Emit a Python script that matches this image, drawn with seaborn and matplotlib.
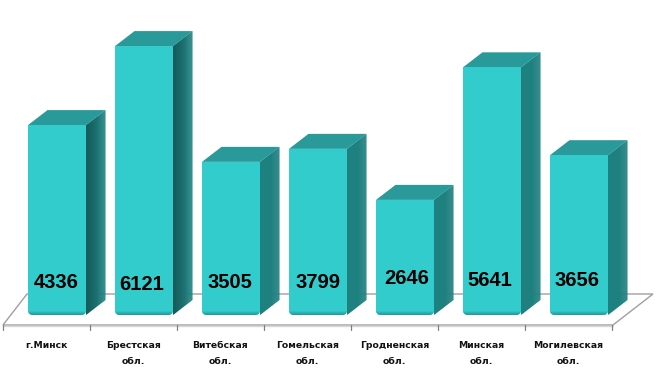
import numpy as np
import pandas as pd
import matplotlib
matplotlib.use('Agg')
import matplotlib.pyplot as plt
import seaborn as sns
from matplotlib.colors import to_rgb
from matplotlib.patches import FancyBboxPatch, Polygon, Rectangle

regions = ['г.Минск', 'Брестская\nобл.', 'Витебская\nобл.', 'Гомельская\nобл.',
           'Гродненская\nобл.', 'Минская\nобл.', 'Могилевская\nобл.']
counts = [4336, 6121, 3505, 3799, 2646, 5641, 3656]

# the value labels are not level in the original, so keep their pixel spots
label_dx = [-1, -2, -1, 0, 2, -2, -2]
label_y = [283, 284.5, 282, 282, 278, 280, 281]

W, H = 660, 391
PX_X = 87.0               # one category
PX_Y = 0.04426            # px per unit
X0, Y0 = 57.0, 317.0      # centre of the first bar, baseline

sns.set_theme(style='white')
plt.rcParams['font.family'] = ['Liberation Sans', 'DejaVu Sans']

fig = plt.figure(figsize=(W / 100, H / 100), dpi=100)
ax = fig.add_axes([0, 0, 1, 1])
df = pd.DataFrame({'region': regions, 'count': counts})
sns.barplot(data=df, x='region', y='count', color='#33CCCC', saturation=1,
            width=58 / PX_X, ax=ax, zorder=3, edgecolor='none', linewidth=0)
bars = list(ax.patches)
ax.set_xlim(-X0 / PX_X, (W - X0) / PX_X)
ax.set_ylim(-(H - Y0) / PX_Y, Y0 / PX_Y)
ax.axis('off')


def px_x(p):
    return (p - X0) / PX_X


def px_y(p):
    return (Y0 - p) / PX_Y


dx, dy = 19.5 / PX_X, 15 / PX_Y   # depth of the 3d effect
bottom = px_y(315)

# floor
floor = [(px_x(3), px_y(325)), (px_x(613), px_y(325)), (px_x(653), px_y(294)), (px_x(27), px_y(294))]
ax.add_patch(Polygon(floor, closed=True, fc='white', ec='#A0A0A0', lw=1, zorder=1))
ax.plot([px_x(3), px_x(613)], [px_y(326), px_y(326)], color='#D8D8D8', lw=1, zorder=1)
for i in range(len(regions) + 1):
    tx = px_x(3) + i
    ax.plot([tx, tx], [px_y(325), px_y(330)], color='#808080', lw=0.9, zorder=1)
for i, name in enumerate(regions):
    ax.text(px_x(3) + i + 0.5, px_y(341), name, ha='center', va='top',
            fontsize=6.7, fontweight='bold', family='DejaVu Sans',
            color='#111111', linespacing=1.95, zorder=5)

# side and top faces
for i, bar in enumerate(bars):
    l, w, h = bar.get_x(), bar.get_width(), bar.get_height()
    r = l + w
    if i < 2:
        c0, c1 = np.array(to_rgb('#155A5A')), np.array(to_rgb('#208484'))
    else:
        c0, c1 = np.array(to_rgb('#1F8080')), np.array(to_rgb('#1F8080'))
    steps = 20
    for s in range(steps):
        a, b = s / steps, min((s + 1.3) / steps, 1)
        t = s / (steps - 1)
        ax.add_patch(Polygon([(r + a * dx, bottom + a * dy), (r + b * dx, bottom + b * dy),
                              (r + b * dx, h + b * dy), (r + a * dx, h + a * dy)],
                             closed=True, fc=c0 + (c1 - c0) * t, ec='none', zorder=2))
    ax.add_patch(Polygon([(l, h), (r, h), (r + dx, h + dy), (l + dx, h + dy)],
                         closed=True, fc='#299999', ec='none', zorder=2))
    # rounded lower corners of the front face
    rad = 5 / PX_X
    rad_y = 5 / PX_Y
    body = FancyBboxPatch((l + rad, bottom + rad_y), w - 2 * rad, h,
                          boxstyle=f'round,pad={rad},rounding_size={rad}',
                          mutation_aspect=PX_X / PX_Y, transform=ax.transData,
                          fc='none', ec='none', zorder=3)
    ax.add_patch(body)
    bar.set_clip_path(body)
    # darker bevel along the foot of the bar
    for k, col in enumerate(['#249C9C', '#28A8A8', '#2CB4B4', '#30C2C2']):
        strip = Rectangle((l, bottom + k / PX_Y), w, 1.2 / PX_Y, fc=col, ec='none', zorder=3.5)
        ax.add_patch(strip)
        strip.set_clip_path(body)
    ax.text(i + label_dx[i] / PX_X, px_y(label_y[i]), f'{counts[i]}', ha='center', va='center',
            fontsize=14.5, fontweight='bold', color='black', zorder=6)

fig.savefig('out.png', dpi=100, facecolor='white')
